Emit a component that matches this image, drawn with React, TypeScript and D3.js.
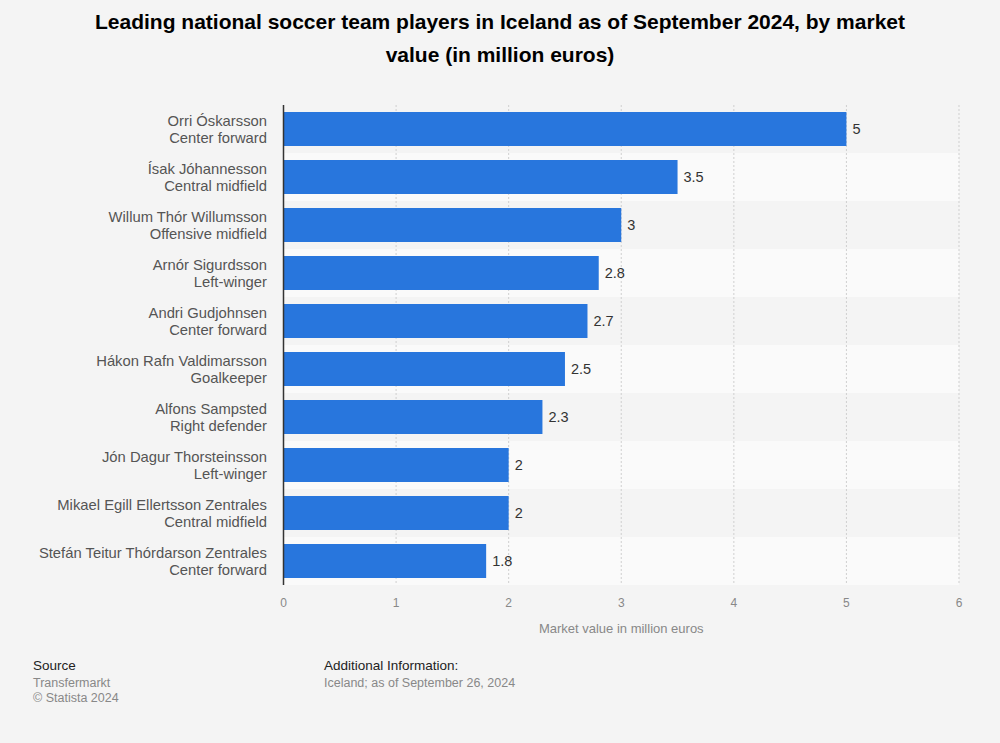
import React from "react";
import * as d3 from "d3";

const players = [
  "Orri Óskarsson",
  "Ísak Jóhannesson",
  "Willum Thór Willumsson",
  "Arnór Sigurdsson",
  "Andri Gudjohnsen",
  "Hákon Rafn Valdimarsson",
  "Alfons Sampsted",
  "Jón Dagur Thorsteinsson",
  "Mikael Egill Ellertsson Zentrales",
  "Stefán Teitur Thórdarson Zentrales",
];
const positions = [
  "Center forward",
  "Central midfield",
  "Offensive midfield",
  "Left-winger",
  "Center forward",
  "Goalkeeper",
  "Right defender",
  "Left-winger",
  "Central midfield",
  "Center forward",
];
const values = [5, 3.5, 3, 2.8, 2.7, 2.5, 2.3, 2, 2, 1.8];
const ticks = [0, 1, 2, 3, 4, 5, 6];

const W = 1000;
const H = 743;
const font = "'Liberation Sans', Arial, sans-serif";

const App = () => {
  const x = d3.scaleLinear().domain([0, 6]).range([283.5, 959]);
  const y = d3
    .scaleBand<number>()
    .domain(d3.range(values.length))
    .range([105, 585])
    .paddingInner(0)
    .paddingOuter(0);
  const barPad = 7;

  return (
    <svg
      width={W}
      height={H}
      style={{ display: "block", position: "absolute", left: 0, top: 0 }}
      fontFamily={font}
    >
      <rect width={W} height={H} fill="#f4f4f4" />
      <text x={500} y={29} textAnchor="middle" fontSize={21} fontWeight="bold" fill="#000">
        Leading national soccer team players in Iceland as of September 2024, by market
      </text>
      <text x={500} y={62} textAnchor="middle" fontSize={21} fontWeight="bold" fill="#000">
        value (in million euros)
      </text>

      {/* row bands */}
      {values.map((_, i) => (
        <rect
          key={"band" + i}
          x={x(0)}
          y={y(i)}
          width={x(6) - x(0)}
          height={y.bandwidth()}
          fill={i % 2 === 0 ? "#f4f4f4" : "#fafafa"}
        />
      ))}

      {/* grid */}
      {ticks.slice(1).map((t) => (
        <line
          key={"g" + t}
          x1={x(t)}
          x2={x(t)}
          y1={105}
          y2={585}
          stroke="#cfcfcf"
          strokeWidth={1}
          strokeDasharray="2,2"
        />
      ))}

      {/* bars */}
      {values.map((v, i) => (
        <g key={"bar" + i}>
          <rect
            x={x(0)}
            y={y(i)! + barPad}
            width={x(v) - x(0)}
            height={y.bandwidth() - barPad * 2}
            fill="#2876dd"
          />
          <text x={x(v) + 6} y={y(i)! + y.bandwidth() / 2 + 5} fontSize={14.5} fill="#333">
            {v}
          </text>
          <text
            x={267}
            y={y(i)! + y.bandwidth() / 2 - 3.5}
            textAnchor="end"
            fontSize={14.8}
            fill="#555"
          >
            {players[i]}
          </text>
          <text
            x={267}
            y={y(i)! + y.bandwidth() / 2 + 14}
            textAnchor="end"
            fontSize={14.8}
            fill="#555"
          >
            {positions[i]}
          </text>
        </g>
      ))}

      {/* axis line */}
      <line x1={x(0)} x2={x(0)} y1={105} y2={585} stroke="#333" strokeWidth={1.5} />

      {ticks.map((t) => (
        <text key={"t" + t} x={x(t)} y={607} textAnchor="middle" fontSize={12} fill="#888">
          {t}
        </text>
      ))}
      <text x={(x(0) + x(6)) / 2} y={633} textAnchor="middle" fontSize={13} fill="#888">
        Market value in million euros
      </text>

      {/* footer */}
      <text x={33} y={670} fontSize={13.5} fill="#222">
        Source
      </text>
      <text x={33} y={687} fontSize={12.5} fill="#888">
        Transfermarkt
      </text>
      <text x={33} y={702} fontSize={12.5} fill="#888">
        © Statista 2024
      </text>
      <text x={324} y={670} fontSize={13.5} fill="#222">
        Additional Information:
      </text>
      <text x={324} y={687} fontSize={12.5} fill="#888">
        Iceland; as of September 26, 2024
      </text>
    </svg>
  );
};

export default App;
